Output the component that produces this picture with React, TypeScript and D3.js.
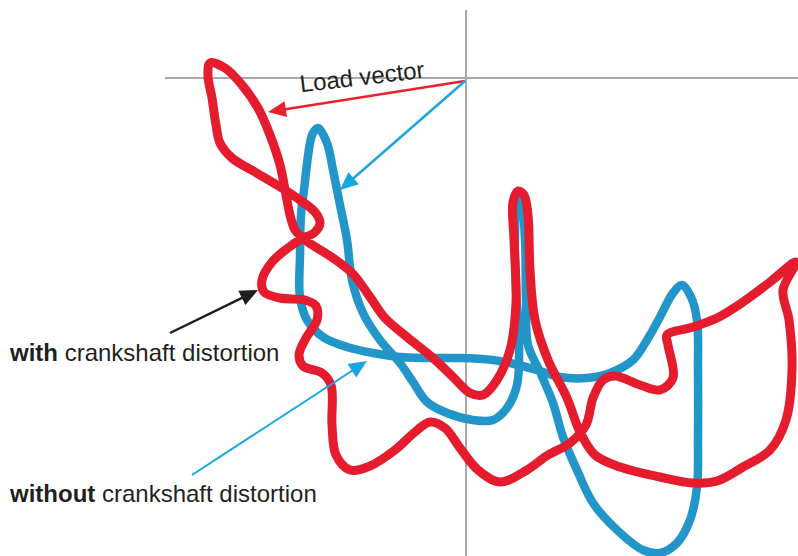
import React, { useRef, useEffect } from 'react';
import * as d3 from 'd3';

// Polar load diagram of a main bearing, with and without crankshaft distortion.
// Units are arbitrary (load components), origin at the crossing of the axes.
const withDistortion: [number, number][] = [
  [-25.6, 1.5], [-25.8, 0.2], [-25.4, -2.0], [-25.0, -4.7], [-24.6, -6.5], [-23.4, -8.0],
  [-21.1, -9.4], [-18.9, -10.7], [-16.6, -12.2], [-15.1, -13.4], [-14.6, -14.5], [-15.2, -15.5],
  [-16.3, -16.0], [-17.8, -17.0], [-19.4, -18.4], [-20.4, -20.2], [-20.2, -21.4], [-18.6, -22.0],
  [-16.1, -22.2], [-15.0, -22.8], [-14.9, -24.2], [-16.0, -26.0], [-16.7, -27.7], [-16.3, -28.8],
  [-14.4, -29.5], [-13.5, -30.7], [-13.4, -34.7], [-13.0, -37.7], [-11.6, -39.2], [-9.6, -38.8],
  [-7.1, -37.2], [-5.1, -35.4], [-3.6, -34.4], [-2.1, -35.0], [-0.6, -37.0], [1.2, -39.2],
  [3.4, -40.4], [6.1, -39.2], [8.2, -37.7], [10.4, -36.5], [12.0, -34.7], [12.7, -32.0],
  [13.7, -30.2], [14.9, -29.8], [17.4, -30.7], [19.4, -31.2], [20.7, -30.0], [20.2, -26.7],
  [20.1, -25.7], [22.7, -24.9], [25.1, -24.0], [27.7, -22.4], [30.4, -20.4], [33.0, -18.4],
  [31.7, -21.2], [32.3, -24.2], [32.6, -29.2], [32.0, -34.2], [30.4, -37.2], [27.7, -38.9],
  [25.1, -40.3], [22.7, -40.5], [19.4, -39.9], [15.4, -38.9], [12.9, -37.7], [11.4, -35.4],
  [10.1, -32.0], [8.2, -28.2], [6.9, -24.2], [6.4, -19.2], [6.2, -13.7], [5.8, -11.7],
  [5.2, -11.3], [4.7, -12.4], [4.8, -16.2], [5.0, -22.5], [4.4, -27.2], [3.1, -30.2],
  [1.7, -31.7], [0.4, -31.5], [-1.3, -29.9], [-3.3, -28.0], [-5.9, -25.9], [-8.1, -24.0],
  [-9.6, -21.9], [-11.3, -19.6], [-13.3, -18.0], [-16.1, -16.2], [-17.1, -15.2], [-17.6, -13.7],
  [-18.0, -11.7], [-18.6, -8.7], [-19.6, -5.7], [-20.8, -3.0], [-22.4, -0.7], [-24.1, 1.0],
];

const withoutDistortion: [number, number][] = [
  [-14.8, -5.0], [-13.9, -6.5], [-13.3, -9.2], [-12.6, -12.7], [-11.9, -16.2], [-11.4, -20.2],
  [-10.3, -23.5], [-8.6, -26.2], [-6.6, -28.5], [-5.3, -30.4], [-3.9, -32.4], [-1.9, -33.5],
  [0.7, -34.2], [2.7, -34.2], [4.1, -33.0], [5.1, -30.7], [5.3, -26.2], [5.0, -21.2],
  [4.9, -16.2], [5.1, -12.7], [5.5, -12.0], [5.9, -16.2], [6.0, -22.2], [6.2, -26.7],
  [7.4, -29.4], [8.7, -32.5], [9.7, -35.9], [11.1, -39.2], [12.7, -42.5], [15.1, -45.2],
  [17.7, -47.2], [19.4, -47.5], [21.1, -46.5], [22.4, -44.2], [23.1, -40.9], [23.2, -35.9],
  [23.2, -29.2], [23.1, -24.2], [22.5, -21.9], [21.6, -20.7], [20.7, -21.5], [19.4, -23.9],
  [18.1, -26.2], [16.7, -28.2], [14.4, -29.5], [12.1, -30.0], [9.4, -29.9], [7.1, -29.2],
  [4.4, -28.5], [2.7, -28.2], [-0.6, -28.0], [-3.9, -28.0], [-6.6, -27.9], [-9.3, -27.5],
  [-11.9, -26.9], [-14.3, -25.9], [-15.9, -24.2], [-16.6, -21.9], [-16.6, -17.7], [-16.5, -13.7],
  [-16.2, -11.2], [-15.6, -6.5], [-15.3, -5.5],
];

// annotation arrows: from, to (data units)
const arrows = [
  { from: [-0.1, -0.3], to: [-19.8, -3.4], color: '#e8232b', width: 2.5 },
  { from: [-0.1, -0.3], to: [-12.6, -11.2], color: '#18a6e0', width: 2.5 },
  { from: [-29.6, -25.5], to: [-20.8, -21.2], color: '#1e1e1e', width: 2.5 },
  { from: [-27.4, -39.7], to: [-9.9, -28.3], color: '#18a6e0', width: 2 },
];

const App: React.FC = () => {
  const svgRef = useRef<SVGSVGElement>(null);
  const width = 798;
  const height = 556;

  useEffect(() => {
    if (!svgRef.current) return;
    const svg = d3.select(svgRef.current);
    svg.selectAll('*').remove();

    const x = d3.scaleLinear().domain([-30, 33.2]).range([166, 798]);
    const y = d3.scaleLinear().domain([7, -47.8]).range([8, 556]);

    // axes through the origin
    svg.append('line')
      .attr('x1', x(0)).attr('x2', x(0))
      .attr('y1', y(6.8)).attr('y2', y(-47.8))
      .attr('stroke', '#a9a9ab').attr('stroke-width', 2);
    svg.append('line')
      .attr('x1', x(-30.1)).attr('x2', x(33.2))
      .attr('y1', y(0)).attr('y2', y(0))
      .attr('stroke', '#a9a9ab').attr('stroke-width', 2);

    const line = d3.line<[number, number]>()
      .x(d => x(d[0]))
      .y(d => y(d[1]))
      .curve(d3.curveCatmullRomClosed.alpha(0.5));

    svg.append('path')
      .attr('d', line(withoutDistortion))
      .attr('fill', 'none')
      .attr('stroke', '#2295c9')
      .attr('stroke-width', 8.5)
      .attr('stroke-linejoin', 'round');

    svg.append('path')
      .attr('d', line(withDistortion))
      .attr('fill', 'none')
      .attr('stroke', '#e51c2e')
      .attr('stroke-width', 9)
      .attr('stroke-linejoin', 'round');

    // arrows
    arrows.forEach(a => {
      const x1 = x(a.from[0]), y1 = y(a.from[1]);
      const x2 = x(a.to[0]), y2 = y(a.to[1]);
      const ang = Math.atan2(y2 - y1, x2 - x1);
      const len = 18, half = 8;
      const bx = x2 - len * Math.cos(ang), by = y2 - len * Math.sin(ang);
      svg.append('line')
        .attr('x1', x1).attr('y1', y1)
        .attr('x2', bx + 2 * Math.cos(ang)).attr('y2', by + 2 * Math.sin(ang))
        .attr('stroke', a.color).attr('stroke-width', a.width);
      const pts = [
        [x2, y2],
        [bx + half * Math.sin(ang), by - half * Math.cos(ang)],
        [bx - half * Math.sin(ang), by + half * Math.cos(ang)],
      ];
      svg.append('polygon')
        .attr('points', pts.map(p => p.join(',')).join(' '))
        .attr('fill', a.color);
    });

    const font = '"Liberation Sans", Arial, Helvetica, sans-serif';

    svg.append('text')
      .attr('transform', `translate(${x(-10.3)},${y(-0.7)}) rotate(-6.7)`)
      .attr('text-anchor', 'middle')
      .style('font-family', font)
      .style('font-size', '24px')
      .attr('fill', '#231f20')
      .text('Load vector');

    const label = (bold: string, rest: string, ty: number) => {
      const t = svg.append('text')
        .attr('x', 10)
        .attr('y', ty)
        .style('font-family', font)
        .style('font-size', '24px')
        .attr('fill', '#231f20');
      t.append('tspan').style('font-weight', 'bold').text(bold);
      t.append('tspan').text(' ' + rest);
    };
    label('with', 'crankshaft distortion', 361);
    label('without', 'crankshaft distortion', 502);
  }, []);

  return (
    <svg
      ref={svgRef}
      width={width}
      height={height}
      style={{ position: 'absolute', left: 0, top: 0, display: 'block', background: '#fff' }}
    />
  );
};

export default App;
